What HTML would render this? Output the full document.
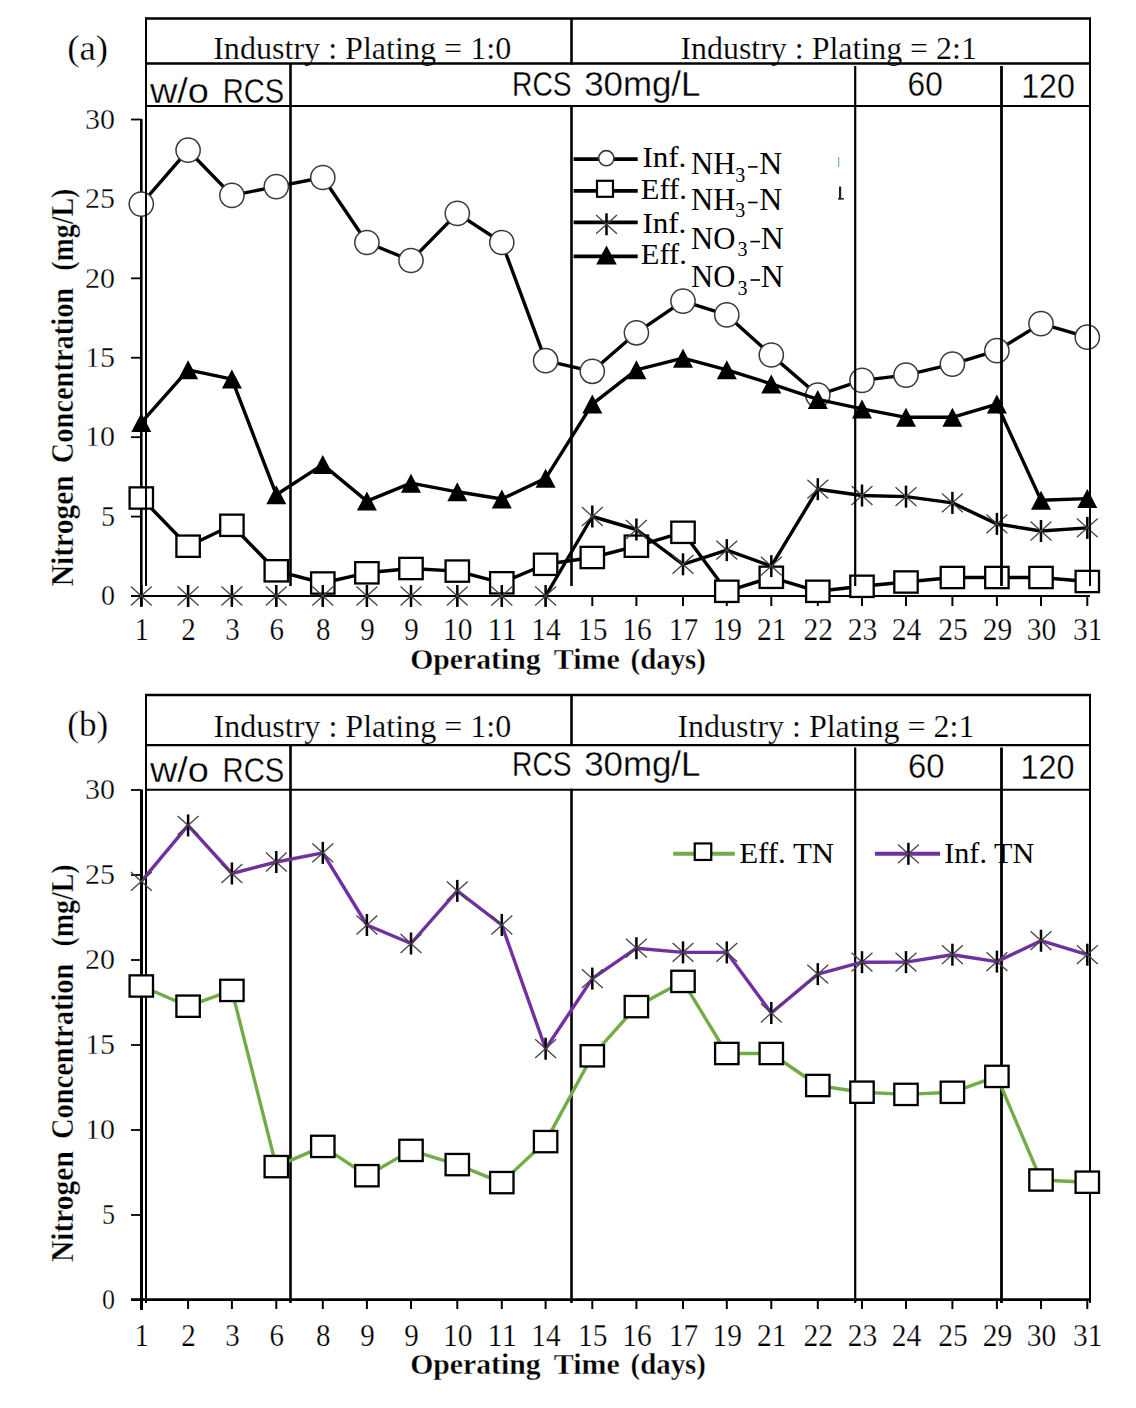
<!DOCTYPE html><html><head><meta charset="utf-8"><style>html,body{margin:0;padding:0;background:#fff;}svg{display:block;}</style></head><body>
<svg width="1136" height="1408" viewBox="0 0 1136 1408">
<rect width="1136" height="1408" fill="#fff"/>
<text x="67.2" y="59.9" font-family='"Liberation Serif", serif' font-size="35" font-weight="normal" text-anchor="start" textLength="41" lengthAdjust="spacingAndGlyphs" stroke="#fff" stroke-width="0.3">(a)</text>
<text x="213.2" y="59.4" font-family='"Liberation Serif", serif' font-size="32" font-weight="normal" text-anchor="start" textLength="298" lengthAdjust="spacingAndGlyphs" stroke="#fff" stroke-width="0.2">Industry : Plating = 1:0</text>
<text x="680.4" y="59.4" font-family='"Liberation Serif", serif' font-size="32" font-weight="normal" text-anchor="start" textLength="296.5" lengthAdjust="spacingAndGlyphs" stroke="#fff" stroke-width="0.2">Industry : Plating = 2:1</text>
<text x="149.9" y="102.5" font-family='"Liberation Sans", sans-serif' font-size="35.6" font-weight="normal" text-anchor="start" textLength="59.1" lengthAdjust="spacingAndGlyphs" stroke="#fff" stroke-width="0.3">w/o</text>
<text x="222.8" y="102.5" font-family='"Liberation Sans", sans-serif' font-size="35.6" font-weight="normal" text-anchor="start" textLength="61.5" lengthAdjust="spacingAndGlyphs" stroke="#fff" stroke-width="0.3">RCS</text>
<text x="512" y="95.8" font-family='"Liberation Sans", sans-serif' font-size="35.8" font-weight="normal" text-anchor="start" textLength="59.6" lengthAdjust="spacingAndGlyphs" stroke="#fff" stroke-width="0.3">RCS</text>
<text x="584.2" y="95.8" font-family='"Liberation Sans", sans-serif' font-size="35.8" font-weight="normal" text-anchor="start" textLength="116.2" lengthAdjust="spacingAndGlyphs" stroke="#fff" stroke-width="0.3">30mg/L</text>
<text x="907.6" y="95.5" font-family='"Liberation Sans", sans-serif' font-size="34.5" font-weight="normal" text-anchor="start" textLength="35.2" lengthAdjust="spacingAndGlyphs" stroke="#fff" stroke-width="0.3">60</text>
<text x="1021.2" y="98.1" font-family='"Liberation Sans", sans-serif' font-size="34.7" font-weight="normal" text-anchor="start" textLength="53.7" lengthAdjust="spacingAndGlyphs" stroke="#fff" stroke-width="0.3">120</text>
<line x1="141.3" y1="119" x2="141.3" y2="606" stroke="#000" stroke-width="2.6"/>
<line x1="131" y1="596.0" x2="141.3" y2="596.0" stroke="#000" stroke-width="1.8"/>
<text x="115" y="605.3" font-family='"Liberation Serif", serif' font-size="29" font-weight="normal" text-anchor="end" textLength="14" lengthAdjust="spacingAndGlyphs" stroke="#fff" stroke-width="0.3">0</text>
<line x1="131" y1="516.5833333333334" x2="141.3" y2="516.5833333333334" stroke="#000" stroke-width="1.8"/>
<text x="115" y="525.8833333333333" font-family='"Liberation Serif", serif' font-size="29" font-weight="normal" text-anchor="end" textLength="14" lengthAdjust="spacingAndGlyphs" stroke="#fff" stroke-width="0.3">5</text>
<line x1="131" y1="437.16666666666663" x2="141.3" y2="437.16666666666663" stroke="#000" stroke-width="1.8"/>
<text x="115" y="446.46666666666664" font-family='"Liberation Serif", serif' font-size="29" font-weight="normal" text-anchor="end" textLength="30" lengthAdjust="spacingAndGlyphs" stroke="#fff" stroke-width="0.3">10</text>
<line x1="131" y1="357.75" x2="141.3" y2="357.75" stroke="#000" stroke-width="1.8"/>
<text x="115" y="367.05" font-family='"Liberation Serif", serif' font-size="29" font-weight="normal" text-anchor="end" textLength="30" lengthAdjust="spacingAndGlyphs" stroke="#fff" stroke-width="0.3">15</text>
<line x1="131" y1="278.3333333333333" x2="141.3" y2="278.3333333333333" stroke="#000" stroke-width="1.8"/>
<text x="115" y="287.6333333333333" font-family='"Liberation Serif", serif' font-size="29" font-weight="normal" text-anchor="end" textLength="30" lengthAdjust="spacingAndGlyphs" stroke="#fff" stroke-width="0.3">20</text>
<line x1="131" y1="198.91666666666669" x2="141.3" y2="198.91666666666669" stroke="#000" stroke-width="1.8"/>
<text x="115" y="208.2166666666667" font-family='"Liberation Serif", serif' font-size="29" font-weight="normal" text-anchor="end" textLength="30" lengthAdjust="spacingAndGlyphs" stroke="#fff" stroke-width="0.3">25</text>
<line x1="131" y1="119.5" x2="141.3" y2="119.5" stroke="#000" stroke-width="1.8"/>
<text x="115" y="128.8" font-family='"Liberation Serif", serif' font-size="29" font-weight="normal" text-anchor="end" textLength="30" lengthAdjust="spacingAndGlyphs" stroke="#fff" stroke-width="0.3">30</text>
<line x1="131" y1="596" x2="1090" y2="596" stroke="#000" stroke-width="2"/>
<line x1="141.3" y1="596" x2="141.3" y2="606" stroke="#000" stroke-width="2"/>
<text x="134.55" y="639.5" font-family='"Liberation Serif", serif' font-size="30.5" font-weight="normal" text-anchor="start" textLength="14.5" lengthAdjust="spacingAndGlyphs" stroke="#fff" stroke-width="0.25">1</text>
<line x1="188.1" y1="596" x2="188.1" y2="606" stroke="#000" stroke-width="2"/>
<text x="181.35" y="639.5" font-family='"Liberation Serif", serif' font-size="30.5" font-weight="normal" text-anchor="start" textLength="14.5" lengthAdjust="spacingAndGlyphs" stroke="#fff" stroke-width="0.25">2</text>
<line x1="231.9" y1="596" x2="231.9" y2="606" stroke="#000" stroke-width="2"/>
<text x="225.15" y="639.5" font-family='"Liberation Serif", serif' font-size="30.5" font-weight="normal" text-anchor="start" textLength="14.5" lengthAdjust="spacingAndGlyphs" stroke="#fff" stroke-width="0.25">3</text>
<line x1="276.3" y1="596" x2="276.3" y2="606" stroke="#000" stroke-width="2"/>
<text x="269.55" y="639.5" font-family='"Liberation Serif", serif' font-size="30.5" font-weight="normal" text-anchor="start" textLength="14.5" lengthAdjust="spacingAndGlyphs" stroke="#fff" stroke-width="0.25">6</text>
<line x1="322.8" y1="596" x2="322.8" y2="606" stroke="#000" stroke-width="2"/>
<text x="316.05" y="639.5" font-family='"Liberation Serif", serif' font-size="30.5" font-weight="normal" text-anchor="start" textLength="14.5" lengthAdjust="spacingAndGlyphs" stroke="#fff" stroke-width="0.25">8</text>
<line x1="366.9" y1="596" x2="366.9" y2="606" stroke="#000" stroke-width="2"/>
<text x="360.15" y="639.5" font-family='"Liberation Serif", serif' font-size="30.5" font-weight="normal" text-anchor="start" textLength="14.5" lengthAdjust="spacingAndGlyphs" stroke="#fff" stroke-width="0.25">9</text>
<line x1="411.0" y1="596" x2="411.0" y2="606" stroke="#000" stroke-width="2"/>
<text x="404.25" y="639.5" font-family='"Liberation Serif", serif' font-size="30.5" font-weight="normal" text-anchor="start" textLength="14.5" lengthAdjust="spacingAndGlyphs" stroke="#fff" stroke-width="0.25">9</text>
<line x1="457.3" y1="596" x2="457.3" y2="606" stroke="#000" stroke-width="2"/>
<text x="443.05" y="639.5" font-family='"Liberation Serif", serif' font-size="30.5" font-weight="normal" text-anchor="start" textLength="29.5" lengthAdjust="spacingAndGlyphs" stroke="#fff" stroke-width="0.25">10</text>
<line x1="501.8" y1="596" x2="501.8" y2="606" stroke="#000" stroke-width="2"/>
<text x="487.55" y="639.5" font-family='"Liberation Serif", serif' font-size="30.5" font-weight="normal" text-anchor="start" textLength="29.5" lengthAdjust="spacingAndGlyphs" stroke="#fff" stroke-width="0.25">11</text>
<line x1="545.6" y1="596" x2="545.6" y2="606" stroke="#000" stroke-width="2"/>
<text x="531.35" y="639.5" font-family='"Liberation Serif", serif' font-size="30.5" font-weight="normal" text-anchor="start" textLength="29.5" lengthAdjust="spacingAndGlyphs" stroke="#fff" stroke-width="0.25">14</text>
<line x1="592.3" y1="596" x2="592.3" y2="606" stroke="#000" stroke-width="2"/>
<text x="578.05" y="639.5" font-family='"Liberation Serif", serif' font-size="30.5" font-weight="normal" text-anchor="start" textLength="29.5" lengthAdjust="spacingAndGlyphs" stroke="#fff" stroke-width="0.25">15</text>
<line x1="636.4" y1="596" x2="636.4" y2="606" stroke="#000" stroke-width="2"/>
<text x="622.15" y="639.5" font-family='"Liberation Serif", serif' font-size="30.5" font-weight="normal" text-anchor="start" textLength="29.5" lengthAdjust="spacingAndGlyphs" stroke="#fff" stroke-width="0.25">16</text>
<line x1="683.0" y1="596" x2="683.0" y2="606" stroke="#000" stroke-width="2"/>
<text x="668.75" y="639.5" font-family='"Liberation Serif", serif' font-size="30.5" font-weight="normal" text-anchor="start" textLength="29.5" lengthAdjust="spacingAndGlyphs" stroke="#fff" stroke-width="0.25">17</text>
<line x1="726.8" y1="596" x2="726.8" y2="606" stroke="#000" stroke-width="2"/>
<text x="712.55" y="639.5" font-family='"Liberation Serif", serif' font-size="30.5" font-weight="normal" text-anchor="start" textLength="29.5" lengthAdjust="spacingAndGlyphs" stroke="#fff" stroke-width="0.25">19</text>
<line x1="771.3" y1="596" x2="771.3" y2="606" stroke="#000" stroke-width="2"/>
<text x="757.05" y="639.5" font-family='"Liberation Serif", serif' font-size="30.5" font-weight="normal" text-anchor="start" textLength="29.5" lengthAdjust="spacingAndGlyphs" stroke="#fff" stroke-width="0.25">21</text>
<line x1="817.8" y1="596" x2="817.8" y2="606" stroke="#000" stroke-width="2"/>
<text x="803.55" y="639.5" font-family='"Liberation Serif", serif' font-size="30.5" font-weight="normal" text-anchor="start" textLength="29.5" lengthAdjust="spacingAndGlyphs" stroke="#fff" stroke-width="0.25">22</text>
<line x1="862.0" y1="596" x2="862.0" y2="606" stroke="#000" stroke-width="2"/>
<text x="847.75" y="639.5" font-family='"Liberation Serif", serif' font-size="30.5" font-weight="normal" text-anchor="start" textLength="29.5" lengthAdjust="spacingAndGlyphs" stroke="#fff" stroke-width="0.25">23</text>
<line x1="906.0" y1="596" x2="906.0" y2="606" stroke="#000" stroke-width="2"/>
<text x="891.75" y="639.5" font-family='"Liberation Serif", serif' font-size="30.5" font-weight="normal" text-anchor="start" textLength="29.5" lengthAdjust="spacingAndGlyphs" stroke="#fff" stroke-width="0.25">24</text>
<line x1="952.4" y1="596" x2="952.4" y2="606" stroke="#000" stroke-width="2"/>
<text x="938.15" y="639.5" font-family='"Liberation Serif", serif' font-size="30.5" font-weight="normal" text-anchor="start" textLength="29.5" lengthAdjust="spacingAndGlyphs" stroke="#fff" stroke-width="0.25">25</text>
<line x1="996.9" y1="596" x2="996.9" y2="606" stroke="#000" stroke-width="2"/>
<text x="982.65" y="639.5" font-family='"Liberation Serif", serif' font-size="30.5" font-weight="normal" text-anchor="start" textLength="29.5" lengthAdjust="spacingAndGlyphs" stroke="#fff" stroke-width="0.25">29</text>
<line x1="1041.0" y1="596" x2="1041.0" y2="606" stroke="#000" stroke-width="2"/>
<text x="1026.75" y="639.5" font-family='"Liberation Serif", serif' font-size="30.5" font-weight="normal" text-anchor="start" textLength="29.5" lengthAdjust="spacingAndGlyphs" stroke="#fff" stroke-width="0.25">30</text>
<line x1="1087.3" y1="596" x2="1087.3" y2="606" stroke="#000" stroke-width="2"/>
<text x="1073.05" y="639.5" font-family='"Liberation Serif", serif' font-size="30.5" font-weight="normal" text-anchor="start" textLength="29.5" lengthAdjust="spacingAndGlyphs" stroke="#fff" stroke-width="0.25">31</text>
<text x="410.2" y="668.7" font-family='"Liberation Serif", serif' font-size="29.6" font-weight="bold" text-anchor="start" textLength="130.5" lengthAdjust="spacingAndGlyphs" stroke="#fff" stroke-width="0.35">Operating</text>
<text x="553.8" y="668.7" font-family='"Liberation Serif", serif' font-size="29.6" font-weight="bold" text-anchor="start" textLength="66" lengthAdjust="spacingAndGlyphs" stroke="#fff" stroke-width="0.35">Time</text>
<text x="630.5" y="668.7" font-family='"Liberation Serif", serif' font-size="29.6" font-weight="bold" text-anchor="start" textLength="75.5" lengthAdjust="spacingAndGlyphs" stroke="#fff" stroke-width="0.35">(days)</text>
<g transform="translate(73.2,585.8) rotate(-90)">
<text x="-0.5" y="0" font-family='"Liberation Serif", serif' font-size="31" font-weight="bold" text-anchor="start" textLength="111" lengthAdjust="spacingAndGlyphs" stroke="#fff" stroke-width="0.35">Nitrogen</text>
<text x="122.49999999999994" y="0" font-family='"Liberation Serif", serif' font-size="31" font-weight="bold" text-anchor="start" textLength="175.5" lengthAdjust="spacingAndGlyphs" stroke="#fff" stroke-width="0.35">Concentration</text>
<text x="315.09999999999997" y="0" font-family='"Liberation Serif", serif' font-size="31" font-weight="bold" text-anchor="start" textLength="82" lengthAdjust="spacingAndGlyphs" stroke="#fff" stroke-width="0.35">(mg/L)</text>
</g>
<clipPath id="cpa"><rect x="0" y="0" width="1136" height="596"/></clipPath>
<g clip-path="url(#cpa)">
<polyline points="141.3,204.1 188.1,150.2 231.9,195.4 276.3,186.6 322.8,177.5 366.9,242.5 411.0,260.5 457.3,213.4 501.8,242.5 545.6,360.7 592.3,371.3 636.4,332.8 683.0,301.1 726.8,314.9 771.3,355 817.8,395.1 862.0,380.4 906.0,375.1 952.4,364.1 996.9,350.7 1041.0,323.6 1087.3,337.2" fill="none" stroke="#000" stroke-width="3.4" stroke-linejoin="round" stroke-linecap="round"/>
</g>
<circle cx="141.3" cy="204.1" r="12.1" fill="#fff" stroke="#3a3a3a" stroke-width="1.5"/>
<circle cx="188.1" cy="150.2" r="12.1" fill="#fff" stroke="#3a3a3a" stroke-width="1.5"/>
<circle cx="231.9" cy="195.4" r="12.1" fill="#fff" stroke="#3a3a3a" stroke-width="1.5"/>
<circle cx="276.3" cy="186.6" r="12.1" fill="#fff" stroke="#3a3a3a" stroke-width="1.5"/>
<circle cx="322.8" cy="177.5" r="12.1" fill="#fff" stroke="#3a3a3a" stroke-width="1.5"/>
<circle cx="366.9" cy="242.5" r="12.1" fill="#fff" stroke="#3a3a3a" stroke-width="1.5"/>
<circle cx="411.0" cy="260.5" r="12.1" fill="#fff" stroke="#3a3a3a" stroke-width="1.5"/>
<circle cx="457.3" cy="213.4" r="12.1" fill="#fff" stroke="#3a3a3a" stroke-width="1.5"/>
<circle cx="501.8" cy="242.5" r="12.1" fill="#fff" stroke="#3a3a3a" stroke-width="1.5"/>
<circle cx="545.6" cy="360.7" r="12.1" fill="#fff" stroke="#3a3a3a" stroke-width="1.5"/>
<circle cx="592.3" cy="371.3" r="12.1" fill="#fff" stroke="#3a3a3a" stroke-width="1.5"/>
<circle cx="636.4" cy="332.8" r="12.1" fill="#fff" stroke="#3a3a3a" stroke-width="1.5"/>
<circle cx="683.0" cy="301.1" r="12.1" fill="#fff" stroke="#3a3a3a" stroke-width="1.5"/>
<circle cx="726.8" cy="314.9" r="12.1" fill="#fff" stroke="#3a3a3a" stroke-width="1.5"/>
<circle cx="771.3" cy="355" r="12.1" fill="#fff" stroke="#3a3a3a" stroke-width="1.5"/>
<circle cx="817.8" cy="395.1" r="12.1" fill="#fff" stroke="#3a3a3a" stroke-width="1.5"/>
<circle cx="862.0" cy="380.4" r="12.1" fill="#fff" stroke="#3a3a3a" stroke-width="1.5"/>
<circle cx="906.0" cy="375.1" r="12.1" fill="#fff" stroke="#3a3a3a" stroke-width="1.5"/>
<circle cx="952.4" cy="364.1" r="12.1" fill="#fff" stroke="#3a3a3a" stroke-width="1.5"/>
<circle cx="996.9" cy="350.7" r="12.1" fill="#fff" stroke="#3a3a3a" stroke-width="1.5"/>
<circle cx="1041.0" cy="323.6" r="12.1" fill="#fff" stroke="#3a3a3a" stroke-width="1.5"/>
<circle cx="1087.3" cy="337.2" r="12.1" fill="#fff" stroke="#3a3a3a" stroke-width="1.5"/>
<g clip-path="url(#cpa)">
<polyline points="141.3,498 188.1,546.2 231.9,525.3 276.3,570.8 322.8,583 366.9,572.8 411.0,568.5 457.3,571.1 501.8,582.8 545.6,564.3 592.3,557.5 636.4,546.2 683.0,532.3 726.8,591.3 771.3,577.3 817.8,591.3 862.0,586.3 906.0,582 952.4,577.5 996.9,577.5 1041.0,577.5 1087.3,581.5" fill="none" stroke="#000" stroke-width="3.4" stroke-linejoin="round" stroke-linecap="round"/>
</g>
<rect x="129.60" y="487.35" width="23.4" height="21.3" fill="#fff" stroke="#000" stroke-width="2.3"/>
<rect x="176.40" y="535.55" width="23.4" height="21.3" fill="#fff" stroke="#000" stroke-width="2.3"/>
<rect x="220.20" y="514.65" width="23.4" height="21.3" fill="#fff" stroke="#000" stroke-width="2.3"/>
<rect x="264.60" y="560.15" width="23.4" height="21.3" fill="#fff" stroke="#000" stroke-width="2.3"/>
<rect x="311.10" y="572.35" width="23.4" height="21.3" fill="#fff" stroke="#000" stroke-width="2.3"/>
<rect x="355.20" y="562.15" width="23.4" height="21.3" fill="#fff" stroke="#000" stroke-width="2.3"/>
<rect x="399.30" y="557.85" width="23.4" height="21.3" fill="#fff" stroke="#000" stroke-width="2.3"/>
<rect x="445.60" y="560.45" width="23.4" height="21.3" fill="#fff" stroke="#000" stroke-width="2.3"/>
<rect x="490.10" y="572.15" width="23.4" height="21.3" fill="#fff" stroke="#000" stroke-width="2.3"/>
<rect x="533.90" y="553.65" width="23.4" height="21.3" fill="#fff" stroke="#000" stroke-width="2.3"/>
<rect x="580.60" y="546.85" width="23.4" height="21.3" fill="#fff" stroke="#000" stroke-width="2.3"/>
<rect x="624.70" y="535.55" width="23.4" height="21.3" fill="#fff" stroke="#000" stroke-width="2.3"/>
<rect x="671.30" y="521.65" width="23.4" height="21.3" fill="#fff" stroke="#000" stroke-width="2.3"/>
<rect x="715.10" y="580.65" width="23.4" height="21.3" fill="#fff" stroke="#000" stroke-width="2.3"/>
<rect x="759.60" y="566.65" width="23.4" height="21.3" fill="#fff" stroke="#000" stroke-width="2.3"/>
<rect x="806.10" y="580.65" width="23.4" height="21.3" fill="#fff" stroke="#000" stroke-width="2.3"/>
<rect x="850.30" y="575.65" width="23.4" height="21.3" fill="#fff" stroke="#000" stroke-width="2.3"/>
<rect x="894.30" y="571.35" width="23.4" height="21.3" fill="#fff" stroke="#000" stroke-width="2.3"/>
<rect x="940.70" y="566.85" width="23.4" height="21.3" fill="#fff" stroke="#000" stroke-width="2.3"/>
<rect x="985.20" y="566.85" width="23.4" height="21.3" fill="#fff" stroke="#000" stroke-width="2.3"/>
<rect x="1029.30" y="566.85" width="23.4" height="21.3" fill="#fff" stroke="#000" stroke-width="2.3"/>
<rect x="1075.60" y="570.85" width="23.4" height="21.3" fill="#fff" stroke="#000" stroke-width="2.3"/>
<g clip-path="url(#cpa)">
<polyline points="545.6,596 592.3,516.5 636.4,529.5 683.0,564.3 726.8,550.1 771.3,566.1 817.8,489.2 862.0,495.5 906.0,496.6 952.4,502.9 996.9,523.9 1041.0,531 1087.3,527.9" fill="none" stroke="#000" stroke-width="3.4" stroke-linejoin="round" stroke-linecap="round"/>
</g>
<line x1="141.3" y1="585" x2="141.3" y2="607" stroke="#000" stroke-width="2.5"/>
<line x1="130.85000000000002" y1="586.595" x2="151.75" y2="605.405" stroke="#444" stroke-width="1.3"/>
<line x1="130.85000000000002" y1="605.405" x2="151.75" y2="586.595" stroke="#444" stroke-width="1.3"/>
<line x1="188.1" y1="585" x2="188.1" y2="607" stroke="#000" stroke-width="2.5"/>
<line x1="177.65" y1="586.595" x2="198.54999999999998" y2="605.405" stroke="#444" stroke-width="1.3"/>
<line x1="177.65" y1="605.405" x2="198.54999999999998" y2="586.595" stroke="#444" stroke-width="1.3"/>
<line x1="231.9" y1="585" x2="231.9" y2="607" stroke="#000" stroke-width="2.5"/>
<line x1="221.45000000000002" y1="586.595" x2="242.35" y2="605.405" stroke="#444" stroke-width="1.3"/>
<line x1="221.45000000000002" y1="605.405" x2="242.35" y2="586.595" stroke="#444" stroke-width="1.3"/>
<line x1="276.3" y1="585" x2="276.3" y2="607" stroke="#000" stroke-width="2.5"/>
<line x1="265.85" y1="586.595" x2="286.75" y2="605.405" stroke="#444" stroke-width="1.3"/>
<line x1="265.85" y1="605.405" x2="286.75" y2="586.595" stroke="#444" stroke-width="1.3"/>
<line x1="322.8" y1="585" x2="322.8" y2="607" stroke="#000" stroke-width="2.5"/>
<line x1="312.35" y1="586.595" x2="333.25" y2="605.405" stroke="#444" stroke-width="1.3"/>
<line x1="312.35" y1="605.405" x2="333.25" y2="586.595" stroke="#444" stroke-width="1.3"/>
<line x1="366.9" y1="585" x2="366.9" y2="607" stroke="#000" stroke-width="2.5"/>
<line x1="356.45" y1="586.595" x2="377.34999999999997" y2="605.405" stroke="#444" stroke-width="1.3"/>
<line x1="356.45" y1="605.405" x2="377.34999999999997" y2="586.595" stroke="#444" stroke-width="1.3"/>
<line x1="411.0" y1="585" x2="411.0" y2="607" stroke="#000" stroke-width="2.5"/>
<line x1="400.55" y1="586.595" x2="421.45" y2="605.405" stroke="#444" stroke-width="1.3"/>
<line x1="400.55" y1="605.405" x2="421.45" y2="586.595" stroke="#444" stroke-width="1.3"/>
<line x1="457.3" y1="585" x2="457.3" y2="607" stroke="#000" stroke-width="2.5"/>
<line x1="446.85" y1="586.595" x2="467.75" y2="605.405" stroke="#444" stroke-width="1.3"/>
<line x1="446.85" y1="605.405" x2="467.75" y2="586.595" stroke="#444" stroke-width="1.3"/>
<line x1="501.8" y1="585" x2="501.8" y2="607" stroke="#000" stroke-width="2.5"/>
<line x1="491.35" y1="586.595" x2="512.25" y2="605.405" stroke="#444" stroke-width="1.3"/>
<line x1="491.35" y1="605.405" x2="512.25" y2="586.595" stroke="#444" stroke-width="1.3"/>
<line x1="545.6" y1="585" x2="545.6" y2="607" stroke="#000" stroke-width="2.5"/>
<line x1="535.15" y1="586.595" x2="556.0500000000001" y2="605.405" stroke="#444" stroke-width="1.3"/>
<line x1="535.15" y1="605.405" x2="556.0500000000001" y2="586.595" stroke="#444" stroke-width="1.3"/>
<line x1="592.3" y1="505.5" x2="592.3" y2="527.5" stroke="#000" stroke-width="2.5"/>
<line x1="581.8499999999999" y1="507.095" x2="602.75" y2="525.905" stroke="#444" stroke-width="1.3"/>
<line x1="581.8499999999999" y1="525.905" x2="602.75" y2="507.095" stroke="#444" stroke-width="1.3"/>
<line x1="636.4" y1="518.5" x2="636.4" y2="540.5" stroke="#000" stroke-width="2.5"/>
<line x1="625.9499999999999" y1="520.095" x2="646.85" y2="538.905" stroke="#444" stroke-width="1.3"/>
<line x1="625.9499999999999" y1="538.905" x2="646.85" y2="520.095" stroke="#444" stroke-width="1.3"/>
<line x1="683.0" y1="553.3" x2="683.0" y2="575.3" stroke="#000" stroke-width="2.5"/>
<line x1="672.55" y1="554.895" x2="693.45" y2="573.7049999999999" stroke="#444" stroke-width="1.3"/>
<line x1="672.55" y1="573.7049999999999" x2="693.45" y2="554.895" stroke="#444" stroke-width="1.3"/>
<line x1="726.8" y1="539.1" x2="726.8" y2="561.1" stroke="#000" stroke-width="2.5"/>
<line x1="716.3499999999999" y1="540.695" x2="737.25" y2="559.505" stroke="#444" stroke-width="1.3"/>
<line x1="716.3499999999999" y1="559.505" x2="737.25" y2="540.695" stroke="#444" stroke-width="1.3"/>
<line x1="771.3" y1="555.1" x2="771.3" y2="577.1" stroke="#000" stroke-width="2.5"/>
<line x1="760.8499999999999" y1="556.695" x2="781.75" y2="575.505" stroke="#444" stroke-width="1.3"/>
<line x1="760.8499999999999" y1="575.505" x2="781.75" y2="556.695" stroke="#444" stroke-width="1.3"/>
<line x1="817.8" y1="478.2" x2="817.8" y2="500.2" stroke="#000" stroke-width="2.5"/>
<line x1="807.3499999999999" y1="479.795" x2="828.25" y2="498.60499999999996" stroke="#444" stroke-width="1.3"/>
<line x1="807.3499999999999" y1="498.60499999999996" x2="828.25" y2="479.795" stroke="#444" stroke-width="1.3"/>
<line x1="862.0" y1="484.5" x2="862.0" y2="506.5" stroke="#000" stroke-width="2.5"/>
<line x1="851.55" y1="486.095" x2="872.45" y2="504.905" stroke="#444" stroke-width="1.3"/>
<line x1="851.55" y1="504.905" x2="872.45" y2="486.095" stroke="#444" stroke-width="1.3"/>
<line x1="906.0" y1="485.6" x2="906.0" y2="507.6" stroke="#000" stroke-width="2.5"/>
<line x1="895.55" y1="487.19500000000005" x2="916.45" y2="506.005" stroke="#444" stroke-width="1.3"/>
<line x1="895.55" y1="506.005" x2="916.45" y2="487.19500000000005" stroke="#444" stroke-width="1.3"/>
<line x1="952.4" y1="491.9" x2="952.4" y2="513.9" stroke="#000" stroke-width="2.5"/>
<line x1="941.9499999999999" y1="493.495" x2="962.85" y2="512.305" stroke="#444" stroke-width="1.3"/>
<line x1="941.9499999999999" y1="512.305" x2="962.85" y2="493.495" stroke="#444" stroke-width="1.3"/>
<line x1="996.9" y1="512.9" x2="996.9" y2="534.9" stroke="#000" stroke-width="2.5"/>
<line x1="986.4499999999999" y1="514.495" x2="1007.35" y2="533.305" stroke="#444" stroke-width="1.3"/>
<line x1="986.4499999999999" y1="533.305" x2="1007.35" y2="514.495" stroke="#444" stroke-width="1.3"/>
<line x1="1041.0" y1="520" x2="1041.0" y2="542" stroke="#000" stroke-width="2.5"/>
<line x1="1030.55" y1="521.595" x2="1051.45" y2="540.405" stroke="#444" stroke-width="1.3"/>
<line x1="1030.55" y1="540.405" x2="1051.45" y2="521.595" stroke="#444" stroke-width="1.3"/>
<line x1="1087.3" y1="516.9" x2="1087.3" y2="538.9" stroke="#000" stroke-width="2.5"/>
<line x1="1076.85" y1="518.495" x2="1097.75" y2="537.305" stroke="#444" stroke-width="1.3"/>
<line x1="1076.85" y1="537.305" x2="1097.75" y2="518.495" stroke="#444" stroke-width="1.3"/>
<g clip-path="url(#cpa)">
<polyline points="141.3,422.6 188.1,369.8 231.9,379.1 276.3,494.7 322.8,464.6 366.9,501.1 411.0,483.2 457.3,491.8 501.8,499 545.6,478.3 592.3,404.1 636.4,369.8 683.0,358.2 726.8,369.8 771.3,383.9 817.8,399.4 862.0,408.9 906.0,417.3 952.4,417.3 996.9,404.1 1041.0,500.3 1087.3,498.6" fill="none" stroke="#000" stroke-width="3.4" stroke-linejoin="round" stroke-linecap="round"/>
</g>
<polygon points="141.3,413.1 151.3,432.1 131.3,432.1" fill="#000"/>
<polygon points="188.1,360.3 198.1,379.3 178.1,379.3" fill="#000"/>
<polygon points="231.9,369.6 241.9,388.6 221.9,388.6" fill="#000"/>
<polygon points="276.3,485.2 286.3,504.2 266.3,504.2" fill="#000"/>
<polygon points="322.8,455.1 332.8,474.1 312.8,474.1" fill="#000"/>
<polygon points="366.9,491.6 376.9,510.6 356.9,510.6" fill="#000"/>
<polygon points="411.0,473.7 421.0,492.7 401.0,492.7" fill="#000"/>
<polygon points="457.3,482.3 467.3,501.3 447.3,501.3" fill="#000"/>
<polygon points="501.8,489.5 511.8,508.5 491.8,508.5" fill="#000"/>
<polygon points="545.6,468.8 555.6,487.8 535.6,487.8" fill="#000"/>
<polygon points="592.3,394.6 602.3,413.6 582.3,413.6" fill="#000"/>
<polygon points="636.4,360.3 646.4,379.3 626.4,379.3" fill="#000"/>
<polygon points="683.0,348.7 693.0,367.7 673.0,367.7" fill="#000"/>
<polygon points="726.8,360.3 736.8,379.3 716.8,379.3" fill="#000"/>
<polygon points="771.3,374.4 781.3,393.4 761.3,393.4" fill="#000"/>
<polygon points="817.8,389.9 827.8,408.9 807.8,408.9" fill="#000"/>
<polygon points="862.0,399.4 872.0,418.4 852.0,418.4" fill="#000"/>
<polygon points="906.0,407.8 916.0,426.8 896.0,426.8" fill="#000"/>
<polygon points="952.4,407.8 962.4,426.8 942.4,426.8" fill="#000"/>
<polygon points="996.9,394.6 1006.9,413.6 986.9,413.6" fill="#000"/>
<polygon points="1041.0,490.8 1051.0,509.8 1031.0,509.8" fill="#000"/>
<polygon points="1087.3,489.1 1097.3,508.1 1077.3,508.1" fill="#000"/>
<line x1="573.6" y1="159.1" x2="637.7" y2="159.1" stroke="#000" stroke-width="3.9"/>
<line x1="573.6" y1="190.9" x2="637.7" y2="190.9" stroke="#000" stroke-width="3.9"/>
<line x1="573.6" y1="222.4" x2="637.7" y2="222.4" stroke="#000" stroke-width="3.9"/>
<line x1="573.6" y1="256.4" x2="637.7" y2="256.4" stroke="#000" stroke-width="3.9"/>
<circle cx="606.3" cy="158.2" r="7.6" fill="#fff" stroke="#3a3a3a" stroke-width="1.6"/>
<rect x="597.00" y="180.80" width="16" height="16" fill="#fff" stroke="#000" stroke-width="2.2"/>
<line x1="606.5" y1="213.3" x2="606.5" y2="235.3" stroke="#000" stroke-width="2.5"/>
<line x1="596.05" y1="214.895" x2="616.95" y2="233.705" stroke="#444" stroke-width="1.3"/>
<line x1="596.05" y1="233.705" x2="616.95" y2="214.895" stroke="#444" stroke-width="1.3"/>
<polygon points="606.5,245.4 616.75,264.4 596.25,264.4" fill="#000"/>
<text x="642.4" y="167.4" font-family='"Liberation Serif", serif' font-size="28.7" font-weight="normal" text-anchor="start" textLength="44" lengthAdjust="spacingAndGlyphs">Inf.</text>
<text x="640.8" y="199.4" font-family='"Liberation Serif", serif' font-size="28.7" font-weight="normal" text-anchor="start" textLength="46" lengthAdjust="spacingAndGlyphs">Eff.</text>
<text x="642.4" y="233.3" font-family='"Liberation Serif", serif' font-size="28.7" font-weight="normal" text-anchor="start" textLength="44" lengthAdjust="spacingAndGlyphs">Inf.</text>
<text x="640.8" y="264.3" font-family='"Liberation Serif", serif' font-size="28.7" font-weight="normal" text-anchor="start" textLength="46" lengthAdjust="spacingAndGlyphs">Eff.</text>
<text x="691.1" y="174.1" font-family='"Liberation Serif", serif' font-size="31.5" font-weight="normal" text-anchor="start" textLength="44.4" lengthAdjust="spacingAndGlyphs">NH</text>
<text x="735.3" y="181.5" font-family='"Liberation Serif", serif' font-size="21.6" font-weight="normal" text-anchor="start" textLength="10" lengthAdjust="spacingAndGlyphs">3</text>
<rect x="748.1" y="166.1" width="9.5" height="1.6" fill="#000"/>
<text x="759.2" y="174.1" font-family='"Liberation Serif", serif' font-size="31.5" font-weight="normal" text-anchor="start" textLength="23" lengthAdjust="spacingAndGlyphs">N</text>
<text x="691.1" y="209.7" font-family='"Liberation Serif", serif' font-size="31.5" font-weight="normal" text-anchor="start" textLength="44.4" lengthAdjust="spacingAndGlyphs">NH</text>
<text x="735.3" y="217.1" font-family='"Liberation Serif", serif' font-size="21.6" font-weight="normal" text-anchor="start" textLength="10" lengthAdjust="spacingAndGlyphs">3</text>
<rect x="748.1" y="201.7" width="9.5" height="1.6" fill="#000"/>
<text x="759.2" y="209.7" font-family='"Liberation Serif", serif' font-size="31.5" font-weight="normal" text-anchor="start" textLength="23" lengthAdjust="spacingAndGlyphs">N</text>
<text x="691.1" y="248.8" font-family='"Liberation Serif", serif' font-size="31.5" font-weight="normal" text-anchor="start" textLength="44.4" lengthAdjust="spacingAndGlyphs">NO</text>
<text x="737.6" y="256.2" font-family='"Liberation Serif", serif' font-size="21.6" font-weight="normal" text-anchor="start" textLength="10" lengthAdjust="spacingAndGlyphs">3</text>
<rect x="750.5" y="240.8" width="9.5" height="1.6" fill="#000"/>
<text x="760.8" y="248.8" font-family='"Liberation Serif", serif' font-size="31.5" font-weight="normal" text-anchor="start" textLength="23" lengthAdjust="spacingAndGlyphs">N</text>
<text x="691.1" y="287.2" font-family='"Liberation Serif", serif' font-size="31.5" font-weight="normal" text-anchor="start" textLength="44.4" lengthAdjust="spacingAndGlyphs">NO</text>
<text x="737.6" y="294.59999999999997" font-family='"Liberation Serif", serif' font-size="21.6" font-weight="normal" text-anchor="start" textLength="10" lengthAdjust="spacingAndGlyphs">3</text>
<rect x="750.5" y="279.2" width="9.5" height="1.6" fill="#000"/>
<text x="760.8" y="287.2" font-family='"Liberation Serif", serif' font-size="31.5" font-weight="normal" text-anchor="start" textLength="23" lengthAdjust="spacingAndGlyphs">N</text>
<rect x="838" y="157" width="1.3" height="10" fill="#7ab8e0"/>
<rect x="839" y="186.5" width="2.2" height="13" fill="#222"/><rect x="838" y="198" width="6" height="1.6" fill="#333"/>
<line x1="145" y1="18.6" x2="1091" y2="18.6" stroke="#000" stroke-width="2.5"/>
<line x1="146" y1="17.6" x2="146" y2="586" stroke="#000" stroke-width="2"/>
<line x1="1090" y1="17.6" x2="1090" y2="586" stroke="#000" stroke-width="2"/>
<line x1="146" y1="63.5" x2="1090" y2="63.5" stroke="#000" stroke-width="2.4"/>
<line x1="146" y1="106" x2="1090" y2="106" stroke="#000" stroke-width="2.1"/>
<line x1="571.5" y1="18.6" x2="571.5" y2="64.5" stroke="#000" stroke-width="2.6"/>
<line x1="290.5" y1="63.5" x2="290.5" y2="586" stroke="#000" stroke-width="2.6"/>
<line x1="571.5" y1="105" x2="571.5" y2="586" stroke="#000" stroke-width="2.6"/>
<line x1="855.2" y1="66.0" x2="855.2" y2="586" stroke="#000" stroke-width="2.2"/>
<line x1="1001.5" y1="66.0" x2="1001.5" y2="586" stroke="#000" stroke-width="2.8"/>
<text x="67.2" y="736" font-family='"Liberation Serif", serif' font-size="35" font-weight="normal" text-anchor="start" textLength="41" lengthAdjust="spacingAndGlyphs" stroke="#fff" stroke-width="0.3">(b)</text>
<text x="213.5" y="736.5" font-family='"Liberation Serif", serif' font-size="32" font-weight="normal" text-anchor="start" textLength="297.8" lengthAdjust="spacingAndGlyphs" stroke="#fff" stroke-width="0.2">Industry : Plating = 1:0</text>
<text x="677.4" y="736.8" font-family='"Liberation Serif", serif' font-size="32" font-weight="normal" text-anchor="start" textLength="297.1" lengthAdjust="spacingAndGlyphs" stroke="#fff" stroke-width="0.2">Industry : Plating = 2:1</text>
<text x="149.9" y="781.6" font-family='"Liberation Sans", sans-serif' font-size="35.6" font-weight="normal" text-anchor="start" textLength="59.1" lengthAdjust="spacingAndGlyphs" stroke="#fff" stroke-width="0.3">w/o</text>
<text x="222.6" y="781.6" font-family='"Liberation Sans", sans-serif' font-size="35.6" font-weight="normal" text-anchor="start" textLength="61.7" lengthAdjust="spacingAndGlyphs" stroke="#fff" stroke-width="0.3">RCS</text>
<text x="512" y="776.4" font-family='"Liberation Sans", sans-serif' font-size="35.8" font-weight="normal" text-anchor="start" textLength="59.6" lengthAdjust="spacingAndGlyphs" stroke="#fff" stroke-width="0.3">RCS</text>
<text x="584.2" y="776.4" font-family='"Liberation Sans", sans-serif' font-size="35.8" font-weight="normal" text-anchor="start" textLength="116.2" lengthAdjust="spacingAndGlyphs" stroke="#fff" stroke-width="0.3">30mg/L</text>
<text x="907.9" y="777.5" font-family='"Liberation Sans", sans-serif' font-size="34.5" font-weight="normal" text-anchor="start" textLength="36.5" lengthAdjust="spacingAndGlyphs" stroke="#fff" stroke-width="0.3">60</text>
<text x="1020.5" y="779.4" font-family='"Liberation Sans", sans-serif' font-size="34.7" font-weight="normal" text-anchor="start" textLength="54" lengthAdjust="spacingAndGlyphs" stroke="#fff" stroke-width="0.3">120</text>
<line x1="141.5" y1="789.6" x2="141.5" y2="1310" stroke="#000" stroke-width="3"/>
<line x1="131" y1="1300.0" x2="141.5" y2="1300.0" stroke="#000" stroke-width="1.8"/>
<text x="115" y="1309.3" font-family='"Liberation Serif", serif' font-size="29" font-weight="normal" text-anchor="end" textLength="13" lengthAdjust="spacingAndGlyphs" stroke="#fff" stroke-width="0.3">0</text>
<line x1="131" y1="1215.0" x2="141.5" y2="1215.0" stroke="#000" stroke-width="1.8"/>
<text x="115" y="1224.3" font-family='"Liberation Serif", serif' font-size="29" font-weight="normal" text-anchor="end" textLength="13" lengthAdjust="spacingAndGlyphs" stroke="#fff" stroke-width="0.3">5</text>
<line x1="131" y1="1130.0" x2="141.5" y2="1130.0" stroke="#000" stroke-width="1.8"/>
<text x="115" y="1139.3" font-family='"Liberation Serif", serif' font-size="29" font-weight="normal" text-anchor="end" textLength="30" lengthAdjust="spacingAndGlyphs" stroke="#fff" stroke-width="0.3">10</text>
<line x1="131" y1="1045.0" x2="141.5" y2="1045.0" stroke="#000" stroke-width="1.8"/>
<text x="115" y="1054.3" font-family='"Liberation Serif", serif' font-size="29" font-weight="normal" text-anchor="end" textLength="30" lengthAdjust="spacingAndGlyphs" stroke="#fff" stroke-width="0.3">15</text>
<line x1="131" y1="960.0" x2="141.5" y2="960.0" stroke="#000" stroke-width="1.8"/>
<text x="115" y="969.3" font-family='"Liberation Serif", serif' font-size="29" font-weight="normal" text-anchor="end" textLength="30" lengthAdjust="spacingAndGlyphs" stroke="#fff" stroke-width="0.3">20</text>
<line x1="131" y1="875.0" x2="141.5" y2="875.0" stroke="#000" stroke-width="1.8"/>
<text x="115" y="884.3" font-family='"Liberation Serif", serif' font-size="29" font-weight="normal" text-anchor="end" textLength="30" lengthAdjust="spacingAndGlyphs" stroke="#fff" stroke-width="0.3">25</text>
<line x1="131" y1="790.0" x2="141.5" y2="790.0" stroke="#000" stroke-width="1.8"/>
<text x="115" y="799.3" font-family='"Liberation Serif", serif' font-size="29" font-weight="normal" text-anchor="end" textLength="30" lengthAdjust="spacingAndGlyphs" stroke="#fff" stroke-width="0.3">30</text>
<line x1="131" y1="1299.7" x2="1090" y2="1299.7" stroke="#000" stroke-width="2.8"/>
<line x1="141.3" y1="1299.7" x2="141.3" y2="1309" stroke="#000" stroke-width="2"/>
<text x="134.55" y="1345.6" font-family='"Liberation Serif", serif' font-size="30.5" font-weight="normal" text-anchor="start" textLength="14.5" lengthAdjust="spacingAndGlyphs" stroke="#fff" stroke-width="0.25">1</text>
<line x1="188.1" y1="1299.7" x2="188.1" y2="1309" stroke="#000" stroke-width="2"/>
<text x="181.35" y="1345.6" font-family='"Liberation Serif", serif' font-size="30.5" font-weight="normal" text-anchor="start" textLength="14.5" lengthAdjust="spacingAndGlyphs" stroke="#fff" stroke-width="0.25">2</text>
<line x1="231.9" y1="1299.7" x2="231.9" y2="1309" stroke="#000" stroke-width="2"/>
<text x="225.15" y="1345.6" font-family='"Liberation Serif", serif' font-size="30.5" font-weight="normal" text-anchor="start" textLength="14.5" lengthAdjust="spacingAndGlyphs" stroke="#fff" stroke-width="0.25">3</text>
<line x1="276.3" y1="1299.7" x2="276.3" y2="1309" stroke="#000" stroke-width="2"/>
<text x="269.55" y="1345.6" font-family='"Liberation Serif", serif' font-size="30.5" font-weight="normal" text-anchor="start" textLength="14.5" lengthAdjust="spacingAndGlyphs" stroke="#fff" stroke-width="0.25">6</text>
<line x1="322.8" y1="1299.7" x2="322.8" y2="1309" stroke="#000" stroke-width="2"/>
<text x="316.05" y="1345.6" font-family='"Liberation Serif", serif' font-size="30.5" font-weight="normal" text-anchor="start" textLength="14.5" lengthAdjust="spacingAndGlyphs" stroke="#fff" stroke-width="0.25">8</text>
<line x1="366.9" y1="1299.7" x2="366.9" y2="1309" stroke="#000" stroke-width="2"/>
<text x="360.15" y="1345.6" font-family='"Liberation Serif", serif' font-size="30.5" font-weight="normal" text-anchor="start" textLength="14.5" lengthAdjust="spacingAndGlyphs" stroke="#fff" stroke-width="0.25">9</text>
<line x1="411.0" y1="1299.7" x2="411.0" y2="1309" stroke="#000" stroke-width="2"/>
<text x="404.25" y="1345.6" font-family='"Liberation Serif", serif' font-size="30.5" font-weight="normal" text-anchor="start" textLength="14.5" lengthAdjust="spacingAndGlyphs" stroke="#fff" stroke-width="0.25">9</text>
<line x1="457.3" y1="1299.7" x2="457.3" y2="1309" stroke="#000" stroke-width="2"/>
<text x="443.05" y="1345.6" font-family='"Liberation Serif", serif' font-size="30.5" font-weight="normal" text-anchor="start" textLength="29.5" lengthAdjust="spacingAndGlyphs" stroke="#fff" stroke-width="0.25">10</text>
<line x1="501.8" y1="1299.7" x2="501.8" y2="1309" stroke="#000" stroke-width="2"/>
<text x="487.55" y="1345.6" font-family='"Liberation Serif", serif' font-size="30.5" font-weight="normal" text-anchor="start" textLength="29.5" lengthAdjust="spacingAndGlyphs" stroke="#fff" stroke-width="0.25">11</text>
<line x1="545.6" y1="1299.7" x2="545.6" y2="1309" stroke="#000" stroke-width="2"/>
<text x="531.35" y="1345.6" font-family='"Liberation Serif", serif' font-size="30.5" font-weight="normal" text-anchor="start" textLength="29.5" lengthAdjust="spacingAndGlyphs" stroke="#fff" stroke-width="0.25">14</text>
<line x1="592.3" y1="1299.7" x2="592.3" y2="1309" stroke="#000" stroke-width="2"/>
<text x="578.05" y="1345.6" font-family='"Liberation Serif", serif' font-size="30.5" font-weight="normal" text-anchor="start" textLength="29.5" lengthAdjust="spacingAndGlyphs" stroke="#fff" stroke-width="0.25">15</text>
<line x1="636.4" y1="1299.7" x2="636.4" y2="1309" stroke="#000" stroke-width="2"/>
<text x="622.15" y="1345.6" font-family='"Liberation Serif", serif' font-size="30.5" font-weight="normal" text-anchor="start" textLength="29.5" lengthAdjust="spacingAndGlyphs" stroke="#fff" stroke-width="0.25">16</text>
<line x1="683.0" y1="1299.7" x2="683.0" y2="1309" stroke="#000" stroke-width="2"/>
<text x="668.75" y="1345.6" font-family='"Liberation Serif", serif' font-size="30.5" font-weight="normal" text-anchor="start" textLength="29.5" lengthAdjust="spacingAndGlyphs" stroke="#fff" stroke-width="0.25">17</text>
<line x1="726.8" y1="1299.7" x2="726.8" y2="1309" stroke="#000" stroke-width="2"/>
<text x="712.55" y="1345.6" font-family='"Liberation Serif", serif' font-size="30.5" font-weight="normal" text-anchor="start" textLength="29.5" lengthAdjust="spacingAndGlyphs" stroke="#fff" stroke-width="0.25">19</text>
<line x1="771.3" y1="1299.7" x2="771.3" y2="1309" stroke="#000" stroke-width="2"/>
<text x="757.05" y="1345.6" font-family='"Liberation Serif", serif' font-size="30.5" font-weight="normal" text-anchor="start" textLength="29.5" lengthAdjust="spacingAndGlyphs" stroke="#fff" stroke-width="0.25">21</text>
<line x1="817.8" y1="1299.7" x2="817.8" y2="1309" stroke="#000" stroke-width="2"/>
<text x="803.55" y="1345.6" font-family='"Liberation Serif", serif' font-size="30.5" font-weight="normal" text-anchor="start" textLength="29.5" lengthAdjust="spacingAndGlyphs" stroke="#fff" stroke-width="0.25">22</text>
<line x1="862.0" y1="1299.7" x2="862.0" y2="1309" stroke="#000" stroke-width="2"/>
<text x="847.75" y="1345.6" font-family='"Liberation Serif", serif' font-size="30.5" font-weight="normal" text-anchor="start" textLength="29.5" lengthAdjust="spacingAndGlyphs" stroke="#fff" stroke-width="0.25">23</text>
<line x1="906.0" y1="1299.7" x2="906.0" y2="1309" stroke="#000" stroke-width="2"/>
<text x="891.75" y="1345.6" font-family='"Liberation Serif", serif' font-size="30.5" font-weight="normal" text-anchor="start" textLength="29.5" lengthAdjust="spacingAndGlyphs" stroke="#fff" stroke-width="0.25">24</text>
<line x1="952.4" y1="1299.7" x2="952.4" y2="1309" stroke="#000" stroke-width="2"/>
<text x="938.15" y="1345.6" font-family='"Liberation Serif", serif' font-size="30.5" font-weight="normal" text-anchor="start" textLength="29.5" lengthAdjust="spacingAndGlyphs" stroke="#fff" stroke-width="0.25">25</text>
<line x1="996.9" y1="1299.7" x2="996.9" y2="1309" stroke="#000" stroke-width="2"/>
<text x="982.65" y="1345.6" font-family='"Liberation Serif", serif' font-size="30.5" font-weight="normal" text-anchor="start" textLength="29.5" lengthAdjust="spacingAndGlyphs" stroke="#fff" stroke-width="0.25">29</text>
<line x1="1041.0" y1="1299.7" x2="1041.0" y2="1309" stroke="#000" stroke-width="2"/>
<text x="1026.75" y="1345.6" font-family='"Liberation Serif", serif' font-size="30.5" font-weight="normal" text-anchor="start" textLength="29.5" lengthAdjust="spacingAndGlyphs" stroke="#fff" stroke-width="0.25">30</text>
<line x1="1087.3" y1="1299.7" x2="1087.3" y2="1309" stroke="#000" stroke-width="2"/>
<text x="1073.05" y="1345.6" font-family='"Liberation Serif", serif' font-size="30.5" font-weight="normal" text-anchor="start" textLength="29.5" lengthAdjust="spacingAndGlyphs" stroke="#fff" stroke-width="0.25">31</text>
<text x="410.2" y="1374.4" font-family='"Liberation Serif", serif' font-size="29.6" font-weight="bold" text-anchor="start" textLength="130.5" lengthAdjust="spacingAndGlyphs" stroke="#fff" stroke-width="0.35">Operating</text>
<text x="553.8" y="1374.4" font-family='"Liberation Serif", serif' font-size="29.6" font-weight="bold" text-anchor="start" textLength="66" lengthAdjust="spacingAndGlyphs" stroke="#fff" stroke-width="0.35">Time</text>
<text x="630.5" y="1374.4" font-family='"Liberation Serif", serif' font-size="29.6" font-weight="bold" text-anchor="start" textLength="75.5" lengthAdjust="spacingAndGlyphs" stroke="#fff" stroke-width="0.35">(days)</text>
<g transform="translate(73.2,1261.6) rotate(-90)">
<text x="-0.5" y="0" font-family='"Liberation Serif", serif' font-size="31" font-weight="bold" text-anchor="start" textLength="111" lengthAdjust="spacingAndGlyphs" stroke="#fff" stroke-width="0.35">Nitrogen</text>
<text x="122.5" y="0" font-family='"Liberation Serif", serif' font-size="31" font-weight="bold" text-anchor="start" textLength="175.5" lengthAdjust="spacingAndGlyphs" stroke="#fff" stroke-width="0.35">Concentration</text>
<text x="315.09999999999997" y="0" font-family='"Liberation Serif", serif' font-size="31" font-weight="bold" text-anchor="start" textLength="82" lengthAdjust="spacingAndGlyphs" stroke="#fff" stroke-width="0.35">(mg/L)</text>
</g>
<line x1="145" y1="695" x2="1091" y2="695" stroke="#000" stroke-width="2.5"/>
<line x1="146" y1="694" x2="146" y2="1303" stroke="#000" stroke-width="2"/>
<line x1="1090" y1="694" x2="1090" y2="1303" stroke="#000" stroke-width="2"/>
<line x1="146" y1="745.1" x2="1090" y2="745.1" stroke="#000" stroke-width="2.4"/>
<line x1="146" y1="789.8" x2="1090" y2="789.8" stroke="#000" stroke-width="2.1"/>
<line x1="571.5" y1="695" x2="571.5" y2="746.1" stroke="#000" stroke-width="2.6"/>
<line x1="290.5" y1="745.1" x2="290.5" y2="1303" stroke="#000" stroke-width="2.6"/>
<line x1="571.5" y1="788.8" x2="571.5" y2="1303" stroke="#000" stroke-width="2.6"/>
<line x1="855.2" y1="747.6" x2="855.2" y2="1303" stroke="#000" stroke-width="2.2"/>
<line x1="1001.5" y1="747.6" x2="1001.5" y2="1303" stroke="#000" stroke-width="2.8"/>
<polyline points="141.3,986 188.1,1006.2 231.9,990.4 276.3,1166.6 322.8,1146.4 366.9,1175.7 411.0,1150.4 457.3,1164.6 501.8,1182.6 545.6,1141.6 592.3,1055.8 636.4,1006.6 683.0,981.4 726.8,1053.5 771.3,1053.5 817.8,1085.5 862.0,1092.2 906.0,1094.4 952.4,1092.3 996.9,1076.4 1041.0,1180 1087.3,1182.2" fill="none" stroke="#70AD47" stroke-width="3.4" stroke-linejoin="round" stroke-linecap="round"/>
<rect x="129.60" y="975.35" width="23.4" height="21.3" fill="#fff" stroke="#000" stroke-width="2.3"/>
<rect x="176.40" y="995.55" width="23.4" height="21.3" fill="#fff" stroke="#000" stroke-width="2.3"/>
<rect x="220.20" y="979.75" width="23.4" height="21.3" fill="#fff" stroke="#000" stroke-width="2.3"/>
<rect x="264.60" y="1155.95" width="23.4" height="21.3" fill="#fff" stroke="#000" stroke-width="2.3"/>
<rect x="311.10" y="1135.75" width="23.4" height="21.3" fill="#fff" stroke="#000" stroke-width="2.3"/>
<rect x="355.20" y="1165.05" width="23.4" height="21.3" fill="#fff" stroke="#000" stroke-width="2.3"/>
<rect x="399.30" y="1139.75" width="23.4" height="21.3" fill="#fff" stroke="#000" stroke-width="2.3"/>
<rect x="445.60" y="1153.95" width="23.4" height="21.3" fill="#fff" stroke="#000" stroke-width="2.3"/>
<rect x="490.10" y="1171.95" width="23.4" height="21.3" fill="#fff" stroke="#000" stroke-width="2.3"/>
<rect x="533.90" y="1130.95" width="23.4" height="21.3" fill="#fff" stroke="#000" stroke-width="2.3"/>
<rect x="580.60" y="1045.15" width="23.4" height="21.3" fill="#fff" stroke="#000" stroke-width="2.3"/>
<rect x="624.70" y="995.95" width="23.4" height="21.3" fill="#fff" stroke="#000" stroke-width="2.3"/>
<rect x="671.30" y="970.75" width="23.4" height="21.3" fill="#fff" stroke="#000" stroke-width="2.3"/>
<rect x="715.10" y="1042.85" width="23.4" height="21.3" fill="#fff" stroke="#000" stroke-width="2.3"/>
<rect x="759.60" y="1042.85" width="23.4" height="21.3" fill="#fff" stroke="#000" stroke-width="2.3"/>
<rect x="806.10" y="1074.85" width="23.4" height="21.3" fill="#fff" stroke="#000" stroke-width="2.3"/>
<rect x="850.30" y="1081.55" width="23.4" height="21.3" fill="#fff" stroke="#000" stroke-width="2.3"/>
<rect x="894.30" y="1083.75" width="23.4" height="21.3" fill="#fff" stroke="#000" stroke-width="2.3"/>
<rect x="940.70" y="1081.65" width="23.4" height="21.3" fill="#fff" stroke="#000" stroke-width="2.3"/>
<rect x="985.20" y="1065.75" width="23.4" height="21.3" fill="#fff" stroke="#000" stroke-width="2.3"/>
<rect x="1029.30" y="1169.35" width="23.4" height="21.3" fill="#fff" stroke="#000" stroke-width="2.3"/>
<rect x="1075.60" y="1171.55" width="23.4" height="21.3" fill="#fff" stroke="#000" stroke-width="2.3"/>
<polyline points="141.3,881.3 188.1,825.4 231.9,873.5 276.3,862 322.8,852.9 366.9,925 411.0,943.5 457.3,890.9 501.8,925 545.6,1048.7 592.3,978.6 636.4,948.2 683.0,952.4 726.8,952.4 771.3,1013 817.8,974.1 862.0,962.2 906.0,962.1 952.4,954.7 996.9,961.6 1041.0,940.7 1087.3,954.7" fill="none" stroke="#7030A0" stroke-width="3.4" stroke-linejoin="round" stroke-linecap="round"/>
<line x1="141.3" y1="870.3" x2="141.3" y2="892.3" stroke="#000" stroke-width="2.5"/>
<line x1="130.85000000000002" y1="871.895" x2="151.75" y2="890.7049999999999" stroke="#444" stroke-width="1.3"/>
<line x1="130.85000000000002" y1="890.7049999999999" x2="151.75" y2="871.895" stroke="#444" stroke-width="1.3"/>
<line x1="188.1" y1="814.4" x2="188.1" y2="836.4" stroke="#000" stroke-width="2.5"/>
<line x1="177.65" y1="815.995" x2="198.54999999999998" y2="834.805" stroke="#444" stroke-width="1.3"/>
<line x1="177.65" y1="834.805" x2="198.54999999999998" y2="815.995" stroke="#444" stroke-width="1.3"/>
<line x1="231.9" y1="862.5" x2="231.9" y2="884.5" stroke="#000" stroke-width="2.5"/>
<line x1="221.45000000000002" y1="864.095" x2="242.35" y2="882.905" stroke="#444" stroke-width="1.3"/>
<line x1="221.45000000000002" y1="882.905" x2="242.35" y2="864.095" stroke="#444" stroke-width="1.3"/>
<line x1="276.3" y1="851" x2="276.3" y2="873" stroke="#000" stroke-width="2.5"/>
<line x1="265.85" y1="852.595" x2="286.75" y2="871.405" stroke="#444" stroke-width="1.3"/>
<line x1="265.85" y1="871.405" x2="286.75" y2="852.595" stroke="#444" stroke-width="1.3"/>
<line x1="322.8" y1="841.9" x2="322.8" y2="863.9" stroke="#000" stroke-width="2.5"/>
<line x1="312.35" y1="843.495" x2="333.25" y2="862.305" stroke="#444" stroke-width="1.3"/>
<line x1="312.35" y1="862.305" x2="333.25" y2="843.495" stroke="#444" stroke-width="1.3"/>
<line x1="366.9" y1="914" x2="366.9" y2="936" stroke="#000" stroke-width="2.5"/>
<line x1="356.45" y1="915.595" x2="377.34999999999997" y2="934.405" stroke="#444" stroke-width="1.3"/>
<line x1="356.45" y1="934.405" x2="377.34999999999997" y2="915.595" stroke="#444" stroke-width="1.3"/>
<line x1="411.0" y1="932.5" x2="411.0" y2="954.5" stroke="#000" stroke-width="2.5"/>
<line x1="400.55" y1="934.095" x2="421.45" y2="952.905" stroke="#444" stroke-width="1.3"/>
<line x1="400.55" y1="952.905" x2="421.45" y2="934.095" stroke="#444" stroke-width="1.3"/>
<line x1="457.3" y1="879.9" x2="457.3" y2="901.9" stroke="#000" stroke-width="2.5"/>
<line x1="446.85" y1="881.495" x2="467.75" y2="900.305" stroke="#444" stroke-width="1.3"/>
<line x1="446.85" y1="900.305" x2="467.75" y2="881.495" stroke="#444" stroke-width="1.3"/>
<line x1="501.8" y1="914" x2="501.8" y2="936" stroke="#000" stroke-width="2.5"/>
<line x1="491.35" y1="915.595" x2="512.25" y2="934.405" stroke="#444" stroke-width="1.3"/>
<line x1="491.35" y1="934.405" x2="512.25" y2="915.595" stroke="#444" stroke-width="1.3"/>
<line x1="545.6" y1="1037.7" x2="545.6" y2="1059.7" stroke="#000" stroke-width="2.5"/>
<line x1="535.15" y1="1039.295" x2="556.0500000000001" y2="1058.105" stroke="#444" stroke-width="1.3"/>
<line x1="535.15" y1="1058.105" x2="556.0500000000001" y2="1039.295" stroke="#444" stroke-width="1.3"/>
<line x1="592.3" y1="967.6" x2="592.3" y2="989.6" stroke="#000" stroke-width="2.5"/>
<line x1="581.8499999999999" y1="969.195" x2="602.75" y2="988.005" stroke="#444" stroke-width="1.3"/>
<line x1="581.8499999999999" y1="988.005" x2="602.75" y2="969.195" stroke="#444" stroke-width="1.3"/>
<line x1="636.4" y1="937.2" x2="636.4" y2="959.2" stroke="#000" stroke-width="2.5"/>
<line x1="625.9499999999999" y1="938.7950000000001" x2="646.85" y2="957.605" stroke="#444" stroke-width="1.3"/>
<line x1="625.9499999999999" y1="957.605" x2="646.85" y2="938.7950000000001" stroke="#444" stroke-width="1.3"/>
<line x1="683.0" y1="941.4" x2="683.0" y2="963.4" stroke="#000" stroke-width="2.5"/>
<line x1="672.55" y1="942.995" x2="693.45" y2="961.805" stroke="#444" stroke-width="1.3"/>
<line x1="672.55" y1="961.805" x2="693.45" y2="942.995" stroke="#444" stroke-width="1.3"/>
<line x1="726.8" y1="941.4" x2="726.8" y2="963.4" stroke="#000" stroke-width="2.5"/>
<line x1="716.3499999999999" y1="942.995" x2="737.25" y2="961.805" stroke="#444" stroke-width="1.3"/>
<line x1="716.3499999999999" y1="961.805" x2="737.25" y2="942.995" stroke="#444" stroke-width="1.3"/>
<line x1="771.3" y1="1002" x2="771.3" y2="1024" stroke="#000" stroke-width="2.5"/>
<line x1="760.8499999999999" y1="1003.595" x2="781.75" y2="1022.405" stroke="#444" stroke-width="1.3"/>
<line x1="760.8499999999999" y1="1022.405" x2="781.75" y2="1003.595" stroke="#444" stroke-width="1.3"/>
<line x1="817.8" y1="963.1" x2="817.8" y2="985.1" stroke="#000" stroke-width="2.5"/>
<line x1="807.3499999999999" y1="964.695" x2="828.25" y2="983.505" stroke="#444" stroke-width="1.3"/>
<line x1="807.3499999999999" y1="983.505" x2="828.25" y2="964.695" stroke="#444" stroke-width="1.3"/>
<line x1="862.0" y1="951.2" x2="862.0" y2="973.2" stroke="#000" stroke-width="2.5"/>
<line x1="851.55" y1="952.7950000000001" x2="872.45" y2="971.605" stroke="#444" stroke-width="1.3"/>
<line x1="851.55" y1="971.605" x2="872.45" y2="952.7950000000001" stroke="#444" stroke-width="1.3"/>
<line x1="906.0" y1="951.1" x2="906.0" y2="973.1" stroke="#000" stroke-width="2.5"/>
<line x1="895.55" y1="952.695" x2="916.45" y2="971.505" stroke="#444" stroke-width="1.3"/>
<line x1="895.55" y1="971.505" x2="916.45" y2="952.695" stroke="#444" stroke-width="1.3"/>
<line x1="952.4" y1="943.7" x2="952.4" y2="965.7" stroke="#000" stroke-width="2.5"/>
<line x1="941.9499999999999" y1="945.2950000000001" x2="962.85" y2="964.105" stroke="#444" stroke-width="1.3"/>
<line x1="941.9499999999999" y1="964.105" x2="962.85" y2="945.2950000000001" stroke="#444" stroke-width="1.3"/>
<line x1="996.9" y1="950.6" x2="996.9" y2="972.6" stroke="#000" stroke-width="2.5"/>
<line x1="986.4499999999999" y1="952.195" x2="1007.35" y2="971.005" stroke="#444" stroke-width="1.3"/>
<line x1="986.4499999999999" y1="971.005" x2="1007.35" y2="952.195" stroke="#444" stroke-width="1.3"/>
<line x1="1041.0" y1="929.7" x2="1041.0" y2="951.7" stroke="#000" stroke-width="2.5"/>
<line x1="1030.55" y1="931.2950000000001" x2="1051.45" y2="950.105" stroke="#444" stroke-width="1.3"/>
<line x1="1030.55" y1="950.105" x2="1051.45" y2="931.2950000000001" stroke="#444" stroke-width="1.3"/>
<line x1="1087.3" y1="943.7" x2="1087.3" y2="965.7" stroke="#000" stroke-width="2.5"/>
<line x1="1076.85" y1="945.2950000000001" x2="1097.75" y2="964.105" stroke="#444" stroke-width="1.3"/>
<line x1="1076.85" y1="964.105" x2="1097.75" y2="945.2950000000001" stroke="#444" stroke-width="1.3"/>
<line x1="673.2" y1="853.8" x2="734.8" y2="853.8" stroke="#70AD47" stroke-width="4"/>
<rect x="694.75" y="843.45" width="16.5" height="16.5" fill="#fff" stroke="#000" stroke-width="2.2"/>
<text x="739.2" y="862.6" font-family='"Liberation Serif", serif' font-size="29.6" font-weight="normal" text-anchor="start" textLength="95" lengthAdjust="spacingAndGlyphs">Eff. TN</text>
<line x1="875" y1="853.8" x2="940.1" y2="853.8" stroke="#7030A0" stroke-width="4"/>
<line x1="908.4" y1="842.8" x2="908.4" y2="864.8" stroke="#000" stroke-width="2.5"/>
<line x1="897.9499999999999" y1="844.395" x2="918.85" y2="863.2049999999999" stroke="#444" stroke-width="1.3"/>
<line x1="897.9499999999999" y1="863.2049999999999" x2="918.85" y2="844.395" stroke="#444" stroke-width="1.3"/>
<text x="944.2" y="862.6" font-family='"Liberation Serif", serif' font-size="29.6" font-weight="normal" text-anchor="start" textLength="90" lengthAdjust="spacingAndGlyphs">Inf. TN</text>
</svg></body></html>
